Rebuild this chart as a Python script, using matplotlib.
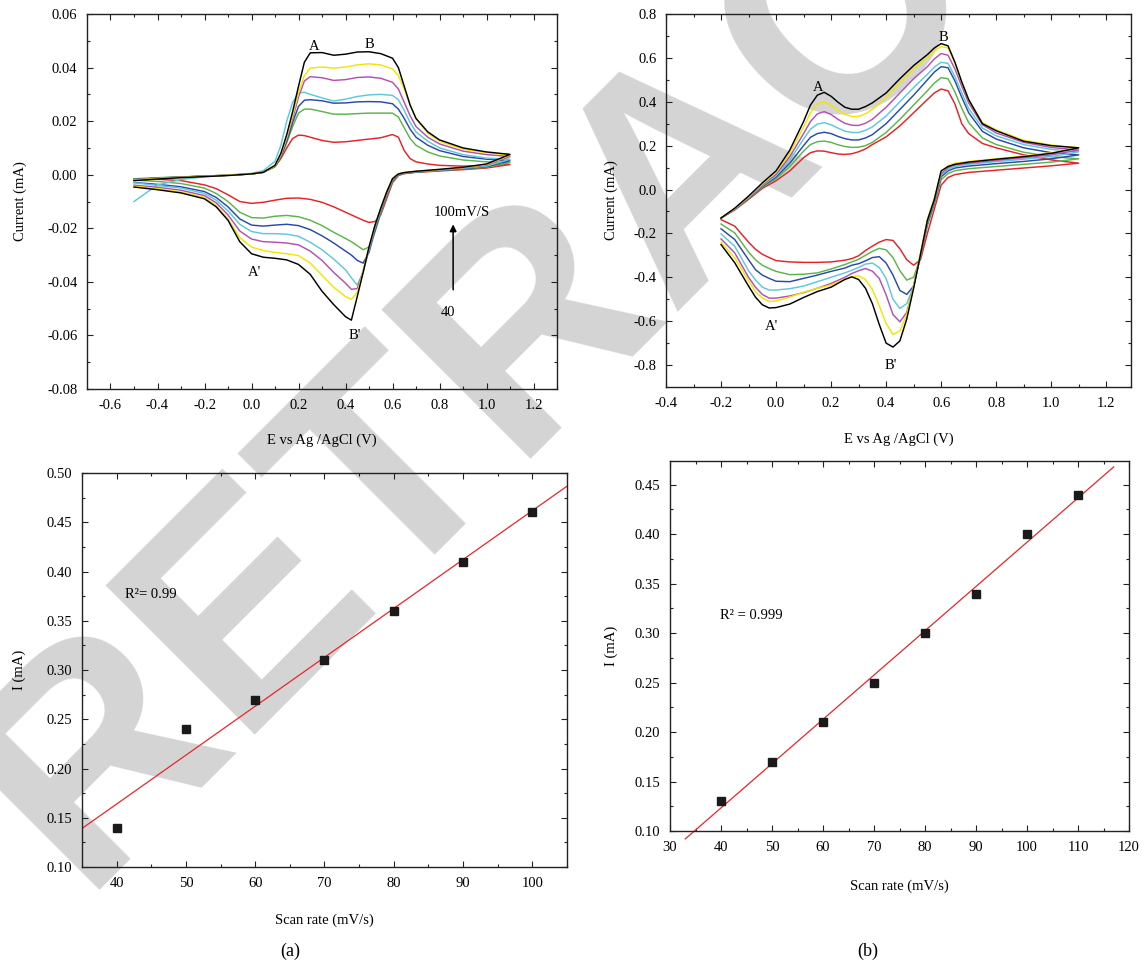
import numpy as np
import matplotlib
matplotlib.use("Agg")
import matplotlib.pyplot as plt
from matplotlib.ticker import MultipleLocator, FormatStrFormatter

plt.rcParams['font.family'] = ['Liberation Serif', 'DejaVu Serif']
plt.rcParams['axes.unicode_minus'] = False

# ---------------- DATA ----------------
# (a) cyclic voltammograms, 40 -> 100 mV/s
tl_e_fwd = [-0.5, -0.4, -0.3, -0.2, -0.1, 0.0, 0.05, 0.1, 0.125, 0.15, 0.175, 0.2, 0.225, 0.25, 0.3,
            0.35, 0.4, 0.45, 0.5, 0.55, 0.6, 0.625, 0.65, 0.675, 0.7, 0.75, 0.8, 0.9, 1.0, 1.1]
tl_e_rev = [1.1, 1.0, 0.9, 0.8, 0.7, 0.65, 0.625, 0.6, 0.575, 0.55, 0.525, 0.5, 0.475, 0.45, 0.425,
            0.4, 0.35, 0.3, 0.25, 0.2, 0.15, 0.1, 0.05, 0.0, -0.05, -0.1, -0.15, -0.2, -0.3, -0.4, -0.5]

tl_fwd_black = [-0.0022, -0.0016, -0.0011, -0.0007, -0.0003, 0.0003, 0.0009, 0.0035, 0.0080, 0.0150, 0.0235, 0.0330, 0.0420, 0.0455, 0.0456,
                0.0446, 0.0450, 0.0458, 0.0459, 0.0452, 0.0435, 0.0400, 0.0330, 0.0260, 0.0210, 0.0160, 0.0130, 0.0100, 0.0085, 0.0076]
tl_fwd_yellow = [-0.0020, -0.0014, -0.0010, -0.0006, -0.0002, 0.0003, 0.0009, 0.0033, 0.0075, 0.0140, 0.0220, 0.0305, 0.0370, 0.0398, 0.0402,
                 0.0398, 0.0402, 0.0410, 0.0414, 0.0410, 0.0395, 0.0370, 0.0320, 0.0260, 0.0210, 0.0155, 0.0125, 0.0095, 0.0082, 0.0073]
tl_fwd_magenta = [-0.0019, -0.0014, -0.0010, -0.0006, -0.0002, 0.0003, 0.0009, 0.0033, 0.0072, 0.0135, 0.0210, 0.0290, 0.0350, 0.0366, 0.0362,
                  0.0352, 0.0355, 0.0363, 0.0365, 0.0360, 0.0345, 0.0320, 0.0270, 0.0220, 0.0180, 0.0140, 0.0115, 0.0088, 0.0075, 0.0068]
tl_fwd_cyan = [-0.0100, -0.0038, -0.0018, -0.0008, -0.0001, 0.0005, 0.0015, 0.0050, 0.0110, 0.0200, 0.0270, 0.0305, 0.0308, 0.0300, 0.0287,
               0.0275, 0.0282, 0.0292, 0.0298, 0.0300, 0.0296, 0.0280, 0.0240, 0.0195, 0.0160, 0.0125, 0.0100, 0.0075, 0.0062, 0.0058]
tl_fwd_blue = [-0.0018, -0.0013, -0.0009, -0.0005, -0.0002, 0.0003, 0.0009, 0.0032, 0.0068, 0.0125, 0.0195, 0.0255, 0.0278, 0.0280, 0.0276,
               0.0267, 0.0268, 0.0272, 0.0273, 0.0272, 0.0265, 0.0245, 0.0210, 0.0170, 0.0140, 0.0110, 0.0090, 0.0068, 0.0058, 0.0052]
tl_fwd_green = [-0.0015, -0.0011, -0.0008, -0.0005, -0.0002, 0.0003, 0.0009, 0.0030, 0.0065, 0.0120, 0.0180, 0.0230, 0.0245, 0.0245, 0.0236,
                0.0226, 0.0226, 0.0228, 0.0230, 0.0230, 0.0230, 0.0215, 0.0175, 0.0135, 0.0110, 0.0085, 0.0070, 0.0055, 0.0048, 0.0045]
tl_fwd_red = [-0.0017, -0.0012, -0.0009, -0.0005, -0.0002, 0.0003, 0.0009, 0.0030, 0.0060, 0.0100, 0.0135, 0.0148, 0.0146, 0.0140, 0.0128,
              0.0121, 0.0123, 0.0128, 0.0133, 0.0138, 0.0150, 0.0140, 0.0090, 0.0060, 0.0048, 0.0040, 0.0035, 0.0032, 0.0034, 0.0038]

tl_rev_black = [0.0076, 0.0040, 0.0028, 0.0020, 0.0013, 0.0008, 0.0003, -0.0015, -0.0065, -0.0125, -0.0190, -0.0270, -0.0365, -0.0455, -0.0543,
                -0.0530, -0.0485, -0.0435, -0.0372, -0.0335, -0.0318, -0.0312, -0.0308, -0.0295, -0.0250, -0.0170, -0.0120, -0.0090, -0.0068, -0.0056, -0.0046]
tl_rev_yellow = [0.0073, 0.0038, 0.0027, 0.0019, 0.0013, 0.0008, 0.0003, -0.0015, -0.0065, -0.0125, -0.0190, -0.0270, -0.0360, -0.0440, -0.0465,
                 -0.0455, -0.0420, -0.0375, -0.0330, -0.0302, -0.0295, -0.0290, -0.0283, -0.0270, -0.0235, -0.0165, -0.0115, -0.0085, -0.0064, -0.0052, -0.0043]
tl_rev_magenta = [0.0068, 0.0036, 0.0026, 0.0018, 0.0012, 0.0007, 0.0002, -0.0017, -0.0068, -0.0128, -0.0195, -0.0275, -0.0360, -0.0425, -0.0428,
                  -0.0405, -0.0365, -0.0320, -0.0285, -0.0262, -0.0255, -0.0252, -0.0250, -0.0240, -0.0210, -0.0150, -0.0105, -0.0078, -0.0058, -0.0047, -0.0039]
tl_rev_cyan = [0.0058, 0.0032, 0.0024, 0.0017, 0.0011, 0.0006, 0.0001, -0.0020, -0.0072, -0.0132, -0.0200, -0.0280, -0.0365, -0.0412, -0.0385,
               -0.0355, -0.0315, -0.0280, -0.0252, -0.0230, -0.0222, -0.0220, -0.0220, -0.0212, -0.0185, -0.0135, -0.0095, -0.0070, -0.0050, -0.0040, -0.0030]
tl_rev_blue = [0.0052, 0.0030, 0.0022, 0.0016, 0.0010, 0.0005, 0.0000, -0.0022, -0.0075, -0.0138, -0.0210, -0.0290, -0.0330, -0.0320, -0.0300,
               -0.0285, -0.0255, -0.0228, -0.0205, -0.0190, -0.0185, -0.0188, -0.0192, -0.0188, -0.0165, -0.0120, -0.0085, -0.0063, -0.0045, -0.0036, -0.0029]
tl_rev_green = [0.0045, 0.0028, 0.0021, 0.0015, 0.0010, 0.0005, -0.0001, -0.0025, -0.0080, -0.0145, -0.0215, -0.0270, -0.0280, -0.0265, -0.0250,
                -0.0238, -0.0215, -0.0190, -0.0170, -0.0157, -0.0152, -0.0155, -0.0162, -0.0160, -0.0140, -0.0100, -0.0070, -0.0050, -0.0033, -0.0025, -0.0020]
tl_rev_red = [0.0038, 0.0025, 0.0019, 0.0014, 0.0009, 0.0004, -0.0003, -0.0030, -0.0090, -0.0150, -0.0175, -0.0178, -0.0170, -0.0160, -0.0150,
              -0.0140, -0.0120, -0.0103, -0.0092, -0.0087, -0.0088, -0.0095, -0.0103, -0.0107, -0.0100, -0.0075, -0.0052, -0.0038, -0.0022, -0.0017, -0.0015]

# (b) cyclic voltammograms
tr_e_fwd = [-0.2, -0.15, -0.1, -0.05, 0.0, 0.05, 0.1, 0.125, 0.15, 0.175, 0.2, 0.225, 0.25, 0.275, 0.3, 0.325,
            0.35, 0.4, 0.45, 0.5, 0.55, 0.575, 0.6, 0.625, 0.65, 0.675, 0.7, 0.75, 0.8, 0.9, 1.0, 1.1]
tr_e_rev = [1.1, 1.0, 0.9, 0.8, 0.7, 0.65, 0.625, 0.6, 0.575, 0.55, 0.525, 0.5, 0.475, 0.45, 0.425, 0.4, 0.375,
            0.35, 0.325, 0.3, 0.275, 0.25, 0.2, 0.15, 0.1, 0.05, 0.0, -0.025, -0.05, -0.075, -0.1, -0.15, -0.2]

tr_fwd_black = [-0.130, -0.085, -0.030, 0.030, 0.085, 0.180, 0.310, 0.385, 0.430, 0.443, 0.425, 0.398, 0.375, 0.366, 0.366, 0.378,
                0.395, 0.440, 0.505, 0.565, 0.615, 0.645, 0.665, 0.655, 0.580, 0.490, 0.410, 0.300, 0.268, 0.220, 0.200, 0.190]
tr_fwd_yellow = [-0.130, -0.087, -0.033, 0.025, 0.078, 0.165, 0.285, 0.350, 0.390, 0.400, 0.385, 0.362, 0.343, 0.333, 0.333, 0.345,
                 0.365, 0.420, 0.485, 0.550, 0.600, 0.630, 0.652, 0.645, 0.580, 0.490, 0.410, 0.305, 0.272, 0.225, 0.203, 0.190]
tr_fwd_magenta = [-0.130, -0.088, -0.035, 0.020, 0.070, 0.150, 0.255, 0.310, 0.345, 0.355, 0.342, 0.320, 0.302, 0.293, 0.292, 0.302,
                  0.320, 0.375, 0.440, 0.505, 0.560, 0.595, 0.620, 0.612, 0.550, 0.470, 0.395, 0.295, 0.258, 0.215, 0.192, 0.180]
tr_fwd_cyan = [-0.130, -0.089, -0.037, 0.017, 0.063, 0.135, 0.230, 0.275, 0.298, 0.305, 0.295, 0.280, 0.266, 0.260, 0.260, 0.270,
               0.285, 0.335, 0.400, 0.465, 0.525, 0.558, 0.580, 0.575, 0.515, 0.440, 0.370, 0.280, 0.245, 0.205, 0.183, 0.172]
tr_fwd_blue = [-0.130, -0.090, -0.039, 0.014, 0.057, 0.120, 0.200, 0.238, 0.255, 0.261, 0.255, 0.242, 0.232, 0.226, 0.226, 0.235,
               0.250, 0.300, 0.365, 0.430, 0.500, 0.535, 0.560, 0.555, 0.495, 0.420, 0.350, 0.265, 0.230, 0.190, 0.168, 0.158]
tr_fwd_green = [-0.130, -0.091, -0.041, 0.010, 0.050, 0.105, 0.175, 0.205, 0.218, 0.221, 0.215, 0.204, 0.196, 0.192, 0.193, 0.200,
                0.215, 0.260, 0.320, 0.385, 0.450, 0.485, 0.510, 0.505, 0.445, 0.370, 0.305, 0.235, 0.205, 0.170, 0.150, 0.140]
tr_fwd_red = [-0.130, -0.093, -0.045, 0.005, 0.040, 0.085, 0.145, 0.168, 0.176, 0.175, 0.168, 0.162, 0.160, 0.163, 0.172, 0.185,
              0.205, 0.240, 0.290, 0.350, 0.410, 0.440, 0.458, 0.450, 0.390, 0.300, 0.255, 0.210, 0.190, 0.158, 0.135, 0.120]

tr_rev_black = [0.190, 0.165, 0.150, 0.138, 0.125, 0.115, 0.105, 0.085, -0.046, -0.140, -0.295, -0.450, -0.590, -0.690, -0.718, -0.700, -0.615,
                -0.520, -0.450, -0.410, -0.398, -0.410, -0.445, -0.465, -0.492, -0.522, -0.538, -0.540, -0.525, -0.490, -0.440, -0.334, -0.251]
tr_rev_yellow = [0.190, 0.167, 0.152, 0.140, 0.128, 0.120, 0.108, 0.080, -0.040, -0.135, -0.290, -0.440, -0.570, -0.645, -0.660, -0.610, -0.530,
                 -0.455, -0.410, -0.393, -0.398, -0.408, -0.435, -0.450, -0.468, -0.490, -0.508, -0.510, -0.495, -0.465, -0.415, -0.312, -0.240]
tr_rev_magenta = [0.180, 0.158, 0.145, 0.133, 0.120, 0.112, 0.100, 0.072, -0.050, -0.145, -0.295, -0.440, -0.560, -0.603, -0.570, -0.480, -0.405,
                  -0.372, -0.360, -0.370, -0.383, -0.400, -0.428, -0.450, -0.470, -0.485, -0.495, -0.495, -0.478, -0.445, -0.400, -0.289, -0.225]
tr_rev_cyan = [0.172, 0.150, 0.138, 0.127, 0.115, 0.105, 0.093, 0.065, -0.055, -0.150, -0.300, -0.440, -0.520, -0.542, -0.500, -0.405, -0.355,
               -0.335, -0.340, -0.355, -0.368, -0.380, -0.400, -0.420, -0.440, -0.452, -0.458, -0.458, -0.445, -0.412, -0.370, -0.259, -0.202]
tr_rev_blue = [0.158, 0.140, 0.128, 0.118, 0.107, 0.098, 0.085, 0.058, -0.060, -0.155, -0.305, -0.440, -0.478, -0.460, -0.390, -0.335, -0.306,
               -0.310, -0.325, -0.338, -0.345, -0.358, -0.373, -0.390, -0.405, -0.420, -0.418, -0.405, -0.390, -0.365, -0.320, -0.228, -0.179]
tr_rev_green = [0.140, 0.125, 0.115, 0.105, 0.095, 0.086, 0.073, 0.045, -0.070, -0.165, -0.310, -0.400, -0.413, -0.370, -0.310, -0.275, -0.268,
                -0.282, -0.300, -0.318, -0.330, -0.342, -0.362, -0.380, -0.386, -0.388, -0.373, -0.360, -0.345, -0.320, -0.285, -0.198, -0.157]
tr_rev_red = [0.120, 0.108, 0.098, 0.088, 0.078, 0.068, 0.055, 0.020, -0.090, -0.200, -0.320, -0.345, -0.320, -0.270, -0.232, -0.228, -0.240,
              -0.258, -0.278, -0.302, -0.315, -0.322, -0.330, -0.332, -0.332, -0.330, -0.324, -0.310, -0.295, -0.272, -0.240, -0.167, -0.137]

# peak current vs scan rate
a_rate = [40, 50, 60, 70, 80, 90, 100]
a_current = [0.14, 0.24, 0.27, 0.31, 0.36, 0.41, 0.46]
b_rate = [40, 50, 60, 70, 80, 90, 100, 110]
b_current = [0.13, 0.17, 0.21, 0.25, 0.30, 0.34, 0.40, 0.44]

curve_colors = ['#e62229', '#5bb548', '#2a4aa8', '#5ec7e0', '#b64fb4', '#f2e600', '#000000']
tl_fwd = [tl_fwd_red, tl_fwd_green, tl_fwd_blue, tl_fwd_cyan, tl_fwd_magenta, tl_fwd_yellow, tl_fwd_black]
tl_rev = [tl_rev_red, tl_rev_green, tl_rev_blue, tl_rev_cyan, tl_rev_magenta, tl_rev_yellow, tl_rev_black]
tr_fwd = [tr_fwd_red, tr_fwd_green, tr_fwd_blue, tr_fwd_cyan, tr_fwd_magenta, tr_fwd_yellow, tr_fwd_black]
tr_rev = [tr_rev_red, tr_rev_green, tr_rev_blue, tr_rev_cyan, tr_rev_magenta, tr_rev_yellow, tr_rev_black]

# ---------------- FIGURE ----------------
fig = plt.figure(figsize=(11.45, 9.63), dpi=100)

# watermark behind everything
fig.text(80 / 1145, 1 - 890 / 963, 'RETRACTED', family='Liberation Sans', weight='bold',
         fontsize=220, color='#d4d4d4', rotation=45, rotation_mode='anchor',
         ha='left', va='baseline', zorder=-10)

ax_tl = fig.add_axes([87 / 1145, 1 - 389 / 963, 470 / 1145, 375 / 963])
ax_tr = fig.add_axes([666 / 1145, 1 - 387 / 963, 465 / 1145, 373 / 963])
ax_bl = fig.add_axes([82 / 1145, 1 - 867 / 963, 485 / 1145, 394 / 963])
ax_br = fig.add_axes([670 / 1145, 1 - 831 / 963, 459 / 1145, 370 / 963])


def style(ax, xmaj, xmin, ymaj, ymin, xfmt, yfmt):
    ax.set_facecolor('none')
    for s in ax.spines.values():
        s.set_color('#222222')
        s.set_linewidth(1.0)
    ax.xaxis.set_major_locator(MultipleLocator(xmaj))
    ax.xaxis.set_minor_locator(MultipleLocator(xmin))
    ax.yaxis.set_major_locator(MultipleLocator(ymaj))
    ax.yaxis.set_minor_locator(MultipleLocator(ymin))
    ax.xaxis.set_major_formatter(FormatStrFormatter(xfmt))
    ax.yaxis.set_major_formatter(FormatStrFormatter(yfmt))
    ax.tick_params(which='both', direction='in', top=True, right=True, color='#222222', width=0.8)
    ax.tick_params(which='major', length=4, labelsize=10.5, pad=7)
    ax.tick_params(which='minor', length=2.5)


# (a) CV
for c, f, r in zip(curve_colors, tl_fwd, tl_rev):
    ax_tl.plot(tl_e_fwd + tl_e_rev, f + r, color=c, lw=1.05)
ax_tl.set_xlim(-0.7, 1.3)
ax_tl.set_ylim(-0.08, 0.06)
style(ax_tl, 0.2, 0.1, 0.02, 0.01, '%.1f', '%.2f')
ax_tl.set_xlabel('E vs Ag /AgCl (V)', fontsize=10.5)
ax_tl.set_ylabel('Current (mA)', fontsize=10.5)
ax_tl.xaxis.set_label_coords(0.5, -0.120)
ax_tl.yaxis.set_label_coords(-0.128, 0.5)
ax_tl.text(0.268, 0.048, 'A', ha='center', va='center', fontsize=10.5)
ax_tl.text(0.50, 0.0486, 'B', ha='center', va='center', fontsize=10.5)
ax_tl.text(0.011, -0.0366, "A'", ha='center', va='center', fontsize=10.5)
ax_tl.text(0.441, -0.060, "B'", ha='center', va='center', fontsize=10.5)
ax_tl.text(0.894, -0.0142, '100mV/S', ha='center', va='center', fontsize=10.5)
ax_tl.text(0.835, -0.0515, '40', ha='center', va='center', fontsize=10.5)
ax_tl.annotate('', xy=(0.858, -0.0175), xytext=(0.858, -0.044),
               arrowprops=dict(arrowstyle='-|>', color='black', lw=1.1, mutation_scale=10))

# (b) CV
for c, f, r in zip(curve_colors, tr_fwd, tr_rev):
    ax_tr.plot(tr_e_fwd + tr_e_rev, f + r, color=c, lw=1.05)
ax_tr.set_xlim(-0.4, 1.29)
ax_tr.set_ylim(-0.9, 0.8)
style(ax_tr, 0.2, 0.1, 0.2, 0.1, '%.1f', '%.1f')
ax_tr.set_xlabel('E vs Ag /AgCl (V)', fontsize=10.5)
ax_tr.set_ylabel('Current (mA)', fontsize=10.5)
ax_tr.xaxis.set_label_coords(0.5, -0.121)
ax_tr.yaxis.set_label_coords(-0.104, 0.5)
ax_tr.text(0.154, 0.464, 'A', ha='center', va='center', fontsize=10.5)
ax_tr.text(0.61, 0.692, 'B', ha='center', va='center', fontsize=10.5)
ax_tr.text(-0.016, -0.624, "A'", ha='center', va='center', fontsize=10.5)
ax_tr.text(0.417, -0.80, "B'", ha='center', va='center', fontsize=10.5)

# (a) scan rate
ka, ba = np.polyfit(a_rate, a_current, 1)
xa = np.array([35, 105])
ax_bl.plot(xa, ka * xa + ba, color='#e8262b', lw=0.9)
ax_bl.plot(a_rate, a_current, 's', color='#1a1a1a', ms=6)
ax_bl.set_xlim(35, 105)
ax_bl.set_ylim(0.10, 0.50)
style(ax_bl, 10, 5, 0.05, 0.025, '%d', '%.2f')
ax_bl.set_xlabel('Scan rate (mV/s)', fontsize=10.5)
ax_bl.set_ylabel('I (mA)', fontsize=10.5)
ax_bl.xaxis.set_label_coords(0.5, -0.119)
ax_bl.yaxis.set_label_coords(-0.115, 0.5)
ax_bl.text(41.2, 0.377, 'R²= 0.99', ha='left', va='center', fontsize=10.5)

# (b) scan rate
kb, bb = np.polyfit(b_rate, b_current, 1)
xb = np.array([33, 117])
ax_br.plot(xb, kb * xb + bb, color='#e8262b', lw=0.9, clip_on=False)
ax_br.plot(b_rate, b_current, 's', color='#1a1a1a', ms=6)
ax_br.set_xlim(30, 120)
ax_br.set_ylim(0.10, 0.474)
style(ax_br, 10, 5, 0.05, 0.025, '%d', '%.2f')
ax_br.set_xlabel('Scan rate (mV/s)', fontsize=10.5)
ax_br.set_ylabel('I (mA)', fontsize=10.5)
ax_br.xaxis.set_label_coords(0.5, -0.130)
ax_br.yaxis.set_label_coords(-0.113, 0.5)
ax_br.text(39.9, 0.318, 'R² = 0.999', ha='left', va='center', fontsize=10.5)

fig.text(290 / 1145, 1 - 951 / 963, '(a)', ha='center', va='center', fontsize=13)
fig.text(868 / 1145, 1 - 951 / 963, '(b)', ha='center', va='center', fontsize=13)

fig.savefig('out.png', dpi=100)
